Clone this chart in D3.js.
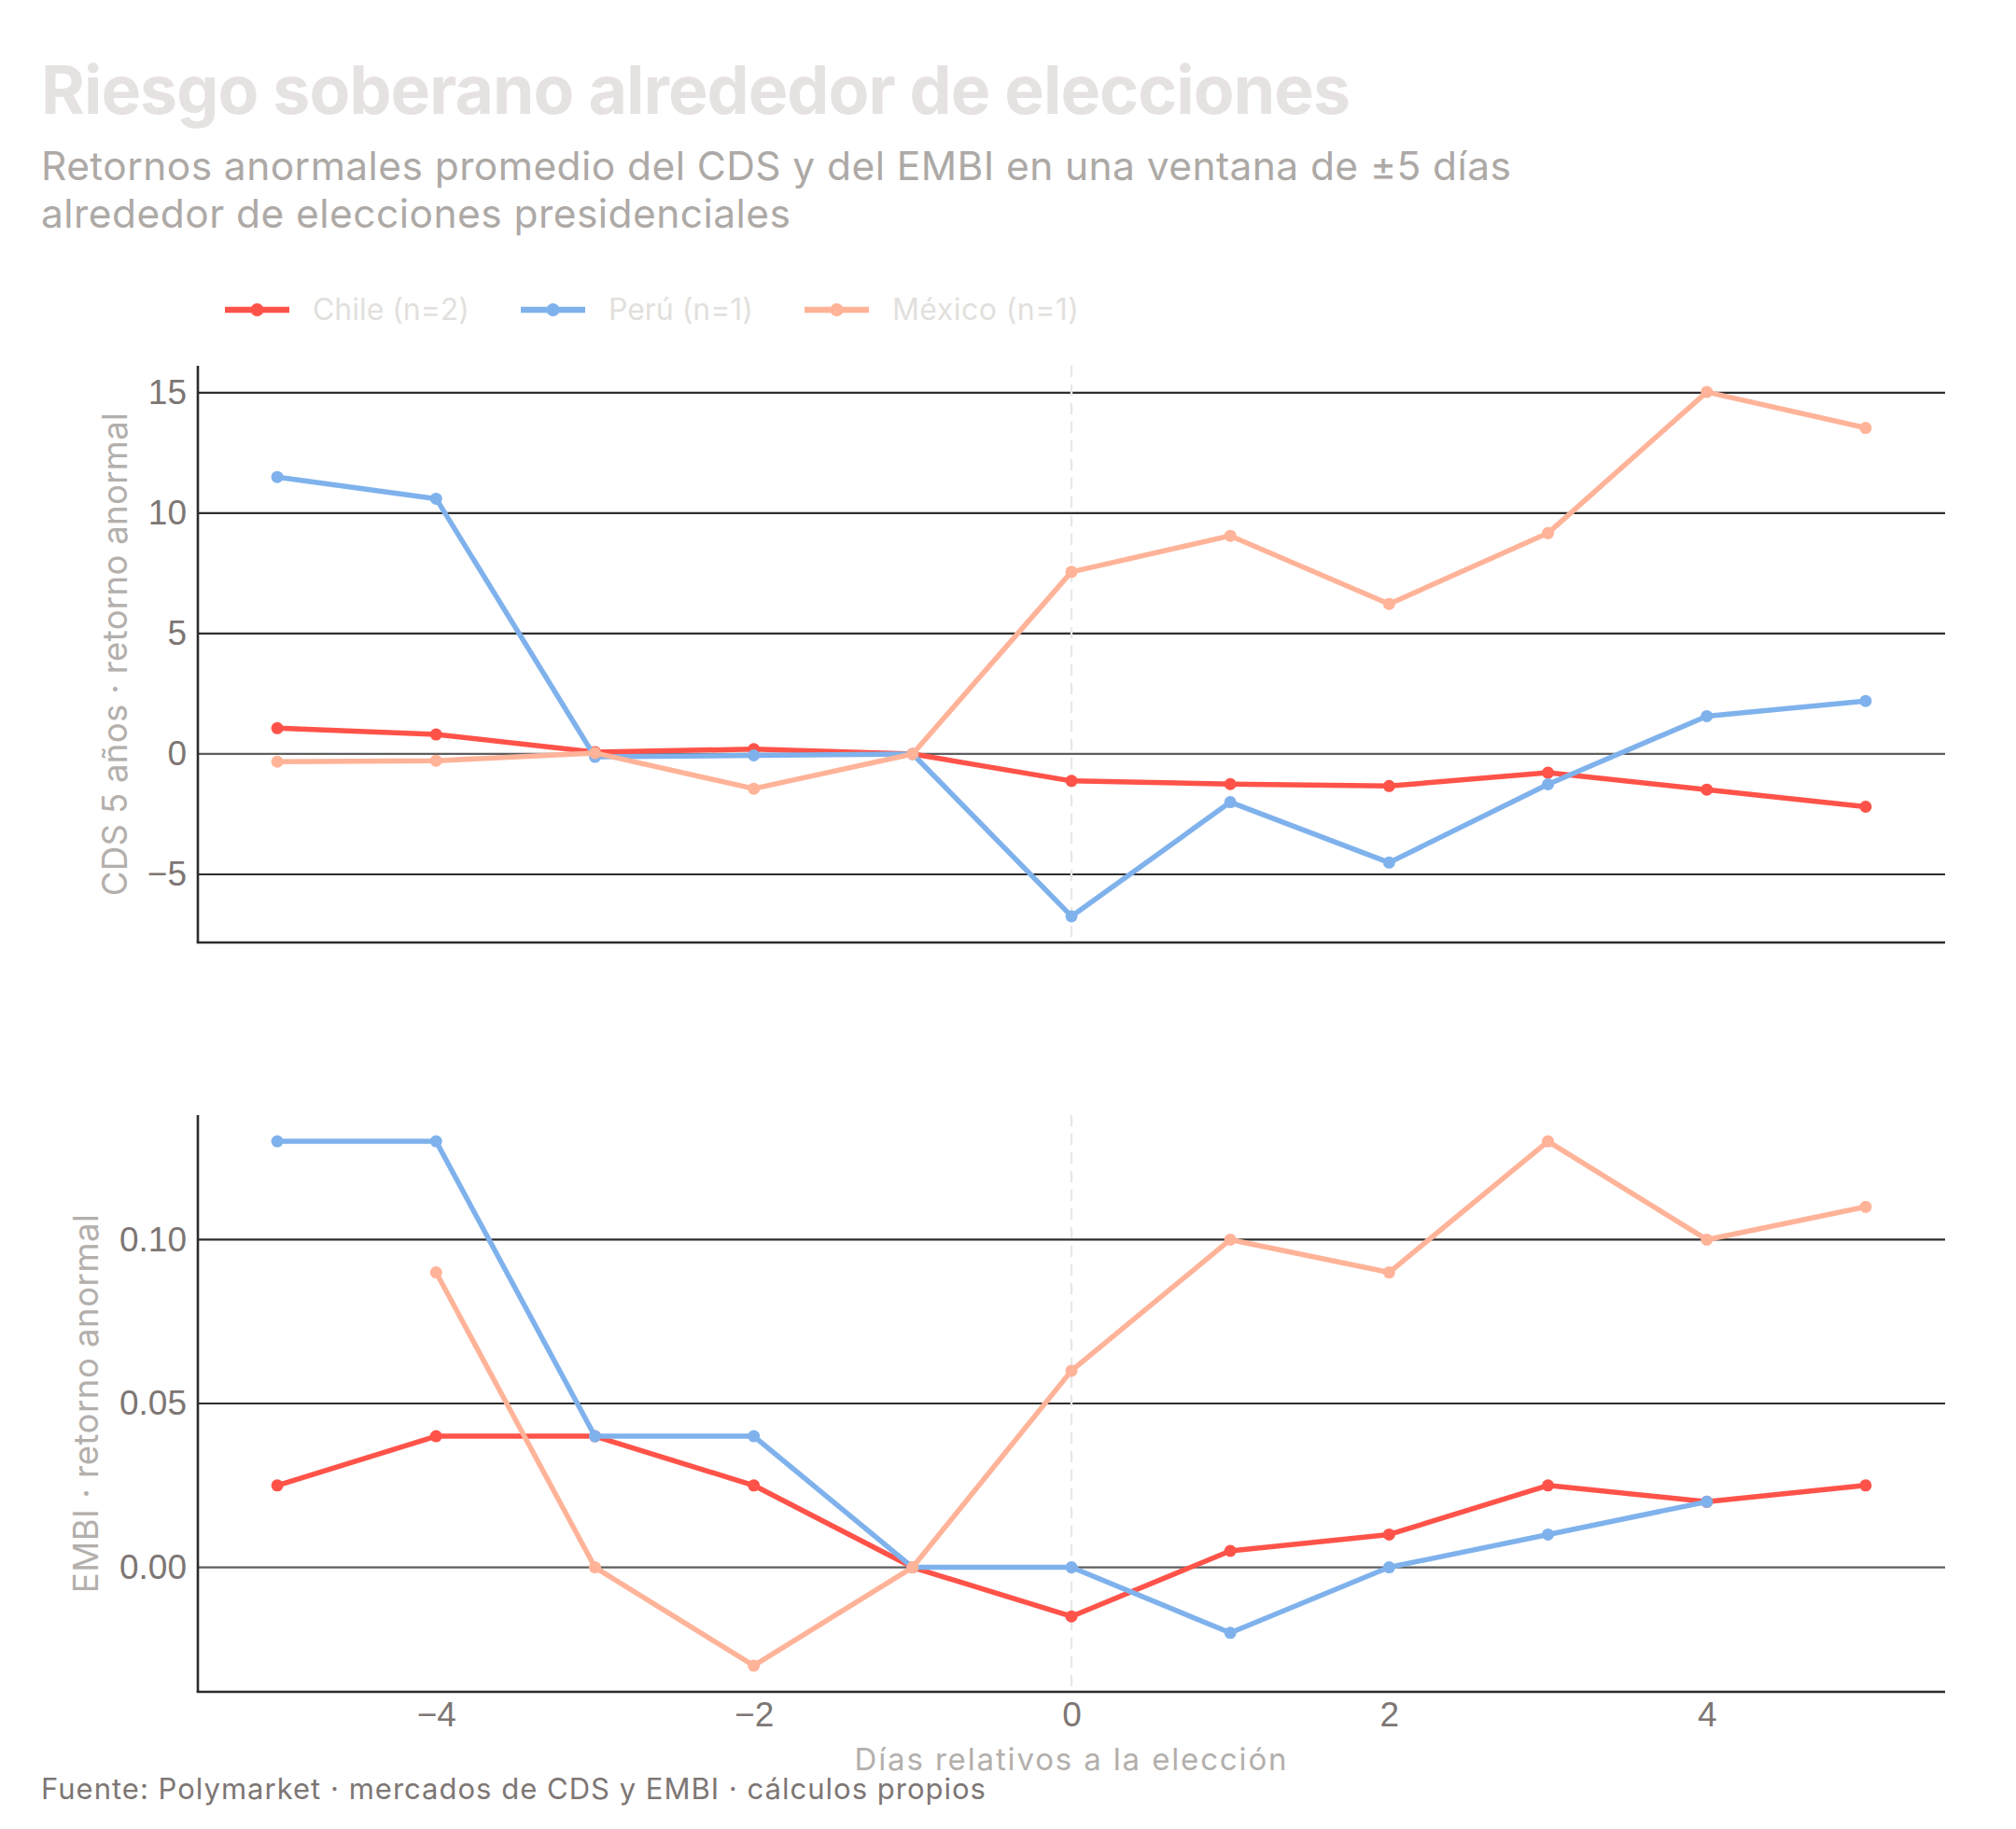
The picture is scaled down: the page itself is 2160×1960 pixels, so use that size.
<!DOCTYPE html>
<html><head><meta charset="utf-8">
<script src="https://cdn.jsdelivr.net/npm/d3@7"></script>
<style>body{margin:0;background:#fff}</style>
</head><body>
<svg id="c" width="2160" height="1960"></svg>
<script>
// ---------- data ----------
const days = [-5,-4,-3,-2,-1,0,1,2,3,4,5];
const cdsChile  = [1.07, 0.81, 0.08, 0.20, 0, -1.12, -1.25, -1.33, -0.78, -1.48, -2.19];
const cdsPeru   = [11.5, 10.6, -0.12, -0.06, 0, -6.74, -2.00, -4.51, -1.26, 1.57, 2.20];
const cdsMexico = [-0.32, -0.28, 0.04, -1.44, 0, 7.56, 9.06, 6.23, 9.17, 15.03, 13.54];
const embiChile  = [0.025, 0.04, 0.04, 0.025, 0, -0.015, 0.005, 0.01, 0.025, 0.02, 0.025];
const embiPeru   = [0.13, 0.13, 0.04, 0.04, 0, 0, -0.02, 0, 0.01, 0.02, null];
const embiMexico = [null, 0.09, 0, -0.03, 0, 0.06, 0.10, 0.09, 0.13, 0.10, 0.11];
const seriesNames  = ["Chile (n=2)", "Perú (n=1)", "México (n=1)"];
const seriesColors = ["#ff5349", "#7fb2ec", "#ffb398"];
const cdsTicks  = [-5, 0, 5, 10, 15];
const embiTicks = [0, 0.05, 0.10];
const dayTicks  = [-4, -2, 0, 2, 4];
const titleText = "Riesgo soberano alrededor de elecciones";
const subtitleLines = ["Retornos anormales promedio del CDS y del EMBI en una ventana de ±5 días",
                       "alrededor de elecciones presidenciales"];
const cdsLabel  = "CDS 5 años · retorno anormal";
const embiLabel = "EMBI · retorno anormal";
const xLabel    = "Días relativos a la elección";
const footer    = "Fuente: Polymarket · mercados de CDS y EMBI · cálculos propios";

// ---------- drawing ----------
const svg = d3.select("#c");
svg.append("rect").attr("width",2160).attr("height",1960).attr("fill","#fff");
const SANS = "Inter, 'Noto Sans', sans-serif";
const TICKF = "'Liberation Sans', Arial, sans-serif";

function fit(t, target){
  const n = t.text().length;
  const w = t.node().getComputedTextLength();
  t.attr("letter-spacing", ((target - w)/Math.max(1,n-1)).toFixed(3));
}

const L = 212, R = 2084;
const x = d3.scaleLinear().domain([-5.5, 5.5]).range([L, R]);

function padDomain(arrs){
  const v = arrs.flat().filter(d => d != null);
  const mn = d3.min(v), mx = d3.max(v), p = (mx-mn)*0.05;
  return [mn-p, mx+p];
}

function panel(top, bottom, series, ticks, fmt, label, labelX, labelW, showX){
  const y = d3.scaleLinear().domain(padDomain(series)).range([bottom, top]);
  const g = svg.append("g");
  g.selectAll("line.grid").data(ticks).join("line").attr("class","grid")
    .attr("x1", L).attr("x2", R).attr("y1", d => y(d)).attr("y2", d => y(d))
    .attr("stroke", d => d === 0 ? "#5e5e5e" : "#2e2e2e").attr("stroke-width", 2.2);
  g.append("line").attr("x1", x(0)).attr("x2", x(0)).attr("y1", top).attr("y2", bottom)
    .attr("stroke", "#e8e8e8").attr("stroke-width", 2.4).attr("stroke-dasharray", "12,8");

  const ax = g.append("g").attr("transform", `translate(${L},0)`)
    .call(d3.axisLeft(y).tickValues(ticks).tickFormat(fmt).tickSize(0).tickPadding(12));
  ax.select(".domain").remove();
  ax.selectAll("text").attr("font-family", TICKF).attr("font-size", 37).attr("fill", "#7d7674");

  if (showX){
    const bx = g.append("g").attr("transform", `translate(0,${bottom})`)
      .call(d3.axisBottom(x).tickValues(dayTicks).tickFormat(d3.format("d")).tickSize(0).tickPadding(11));
    bx.select(".domain").remove();
    bx.selectAll("text").attr("font-family", TICKF).attr("font-size", 37).attr("fill", "#7d7674");
  }
  // spines
  g.append("line").attr("x1", L).attr("x2", L).attr("y1", top).attr("y2", bottom)
    .attr("stroke", "#2b2b2b").attr("stroke-width", 2.6);
  g.append("line").attr("x1", L - 1.3).attr("x2", R).attr("y1", bottom).attr("y2", bottom)
    .attr("stroke", "#2b2b2b").attr("stroke-width", 2.6);

  // y label
  const yl = g.append("text").attr("transform", `translate(${labelX},${(top+bottom)/2}) rotate(-90)`)
    .attr("text-anchor", "middle").attr("dy", "0.36em")
    .attr("font-family", SANS).attr("font-size", 36.5).attr("fill", "#b3afac").text(label);
  fit(yl, labelW);

  // series
  const line = d3.line().defined(d => d.v != null).x(d => x(d.day)).y(d => y(d.v));
  series.forEach((vals, i) => {
    const pts = days.map((day, j) => ({day, v: vals[j]}));
    g.append("path").datum(pts).attr("d", line).attr("fill", "none")
      .attr("stroke", seriesColors[i]).attr("stroke-width", 5.5)
      .attr("stroke-linejoin", "round").attr("stroke-linecap", "round");
    g.selectAll(null).data(pts.filter(d => d.v != null)).join("circle")
      .attr("cx", d => x(d.day)).attr("cy", d => y(d.v)).attr("r", 6.5)
      .attr("fill", seriesColors[i]);
  });
  return y;
}

panel(392, 1010, [cdsChile, cdsPeru, cdsMexico], cdsTicks, d3.format("d"), cdsLabel, 123, 518, false);
panel(1195, 1813, [embiChile, embiPeru, embiMexico], embiTicks, d3.format(".2f"), embiLabel, 92, 406, true);

// x label
const xl = svg.append("text").attr("x", (L+R)/2).attr("y", 1897).attr("text-anchor", "middle")
  .attr("font-family", SANS).attr("font-size", 33).attr("fill", "#b3afac").text(xLabel);
fit(xl, 463);

// title & subtitle
const tt = svg.append("text").attr("x", 44).attr("y", 122).attr("font-family", SANS)
  .attr("font-weight", 700).attr("font-size", 71.5).attr("fill", "#e6e2e1").text(titleText);
fit(tt, 1403);
const subW = [1575, 803], subY = [192.7, 244.3];
subtitleLines.forEach((s, i) => {
  const t = svg.append("text").attr("x", 44).attr("y", subY[i]).attr("font-family", SANS)
    .attr("font-size", 42.5).attr("fill", "#ada9a6").text(s);
  fit(t, subW[i]);
});

// legend
const legW = [168, 155, 200];
let lx = 241;
seriesNames.forEach((name, i) => {
  const lg = svg.append("g");
  lg.append("line").attr("x1", lx).attr("x2", lx + 69).attr("y1", 332).attr("y2", 332)
    .attr("stroke", seriesColors[i]).attr("stroke-width", 6.5);
  lg.append("circle").attr("cx", lx + 34.5).attr("cy", 332).attr("r", 7).attr("fill", seriesColors[i]);
  const t = lg.append("text").attr("x", lx + 94).attr("y", 343.3).attr("font-family", SANS)
    .attr("font-size", 32).attr("fill", "#e2dfdd").text(name);
  fit(t, legW[i]);
  lx = lx + 94 + legW[i] + 55;
});

// footer
const ft = svg.append("text").attr("x", 44).attr("y", 1927.7).attr("font-family", SANS)
  .attr("font-size", 31).attr("fill", "#7d7674").text(footer);
fit(ft, 1012);
</script>
</body></html>
